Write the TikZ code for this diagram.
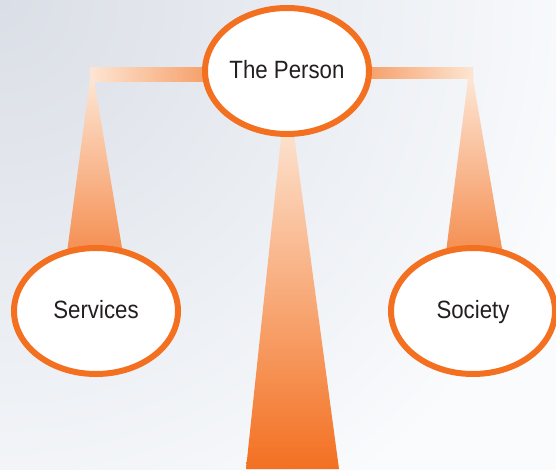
\documentclass[tikz,border=0pt]{standalone}
\usepackage{fontspec}
\setmainfont{Liberation Sans}[FakeStretch=0.89]
\usetikzlibrary{shapes.geometric,backgrounds,calc}

\definecolor{ringorange}{HTML}{F37021}
\definecolor{paleorange}{HTML}{FDE5D3}
\definecolor{midorange}{HTML}{F6A06A}
\definecolor{legorange}{HTML}{F48B4C}
\definecolor{backwhite}{HTML}{F9FBFD}
\definecolor{backgray}{HTML}{DADEE6}
\definecolor{labelgray}{HTML}{231F20}

\tikzset{
	bubble/.style={ellipse,draw=ringorange,line width=6pt,fill=white,
		minimum width=164pt,minimum height=126pt,inner sep=0pt,
		text=labelgray,text depth=4pt,font=\fontsize{25}{29}\selectfont}
}

\begin{document}
\begin{tikzpicture}[x=1pt,y=-1pt]
		\useasboundingbox (0,0) rectangle (556,470);
		% Draw the three ellipses with their labels
		\foreach \name/\x/\y/\label in {person/287/71/The Person,
			services/96/311/Services,
			society/473/311/Society}
		{\node[bubble] (\name) at (\x,\y) {\label};}
		\begin{pgfonlayer}{background}
			% Background, greyer in the top left corner
			\fill[backwhite] (0,0) rectangle (556,470);
			\begin{scope}
				\clip (0,0) rectangle (556,470);
				\shade[inner color=backgray,outer color=backwhite] (0,0) circle (600);
			\end{scope}
			% Draw the beam arms
			\coordinate (lefthook) at (90,68);
			\coordinate (righthook) at (473,68);
			\shade[left color=paleorange,right color=midorange]
				(lefthook) rectangle ($(person.west)+(4,11)$);
			\shade[left color=midorange,right color=paleorange]
				($(person.east)+(-4,-3)$) rectangle ($(righthook)+(0,11)$);
			% Draw the hanging legs
			\shade[top color=paleorange,bottom color=legorange]
				($(lefthook)+(0,11)$) -- ($(lefthook)+(4,11)$) -- ($(services.north)+(28,15)$) -- ($(services.north)+(-30,15)$) -- cycle;
			\shade[top color=paleorange,bottom color=legorange]
				($(righthook)+(-5,11)$) -- ($(righthook)+(0,11)$) -- ($(society.north)+(31,15)$) -- ($(society.north)+(-28,15)$) -- cycle;
			% Draw the central post
			\coordinate (postfoot) at (292,469);
			\shade[top color=paleorange,bottom color=ringorange]
				($(person.south)+(-4,-17)$) -- ($(person.south)+(5,-17)$) -- ($(postfoot)+(47,0)$) -- ($(postfoot)+(-46,0)$) -- cycle;
		\end{pgfonlayer}
	\end{tikzpicture}
\end{document}
